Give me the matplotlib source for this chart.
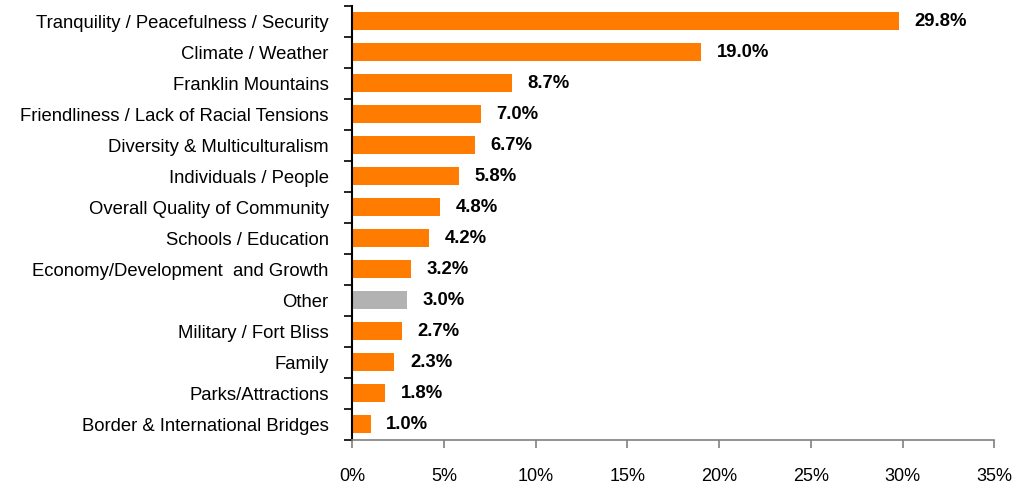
import matplotlib.pyplot as plt

plt.rcParams['font.family'] = ['Liberation Sans', 'DejaVu Sans']

categories = [
    "Tranquility / Peacefulness / Security",
    "Climate / Weather",
    "Franklin Mountains",
    "Friendliness / Lack of Racial Tensions",
    "Diversity & Multiculturalism",
    "Individuals / People",
    "Overall Quality of Community",
    "Schools / Education",
    "Economy/Development  and Growth",
    "Other",
    "Military / Fort Bliss",
    "Family",
    "Parks/Attractions",
    "Border & International Bridges",
]
values = [29.8, 19.0, 8.7, 7.0, 6.7, 5.8, 4.8, 4.2, 3.2, 3.0, 2.7, 2.3, 1.8, 1.0]
colors = ["#FF7C00"] * len(values)
colors[categories.index("Other")] = "#B2B2B2"

fig = plt.figure(figsize=(10.21, 4.86), dpi=100)
ax = fig.add_axes([0.345, 0.095, 0.629, 0.893])

n = len(values)
ypos = list(range(n - 1, -1, -1))
ax.barh(ypos, values, height=0.58, color=colors)

for y, v in zip(ypos, values):
    ax.text(v + 0.85, y, f"{v:.1f}%", va="center", ha="left",
            fontsize=13.3, fontweight="bold")

ax.set_xlim(0, 35)
ax.set_ylim(-0.5, n - 0.5)
ax.set_xticks(range(0, 36, 5))
ax.set_xticklabels([f"{t}%" for t in range(0, 36, 5)], fontsize=13)
ax.set_yticks(ypos)
ax.set_yticklabels(categories, fontsize=13.3)
ax.tick_params(axis="y", length=0, pad=17)
ax.set_yticks([i - 0.5 for i in range(n + 1)], minor=True)
ax.tick_params(axis="y", which="minor", length=6, width=1.2, color="black", direction="out")
ax.tick_params(axis="x", length=6, color="#808080", width=1.2, pad=14)

for s in ["top", "right"]:
    ax.spines[s].set_visible(False)
ax.spines["left"].set_color("black")
ax.spines["left"].set_linewidth(1.5)
ax.spines["bottom"].set_color("#808080")
ax.spines["bottom"].set_linewidth(1.2)

fig.savefig("out.png", dpi=100)
